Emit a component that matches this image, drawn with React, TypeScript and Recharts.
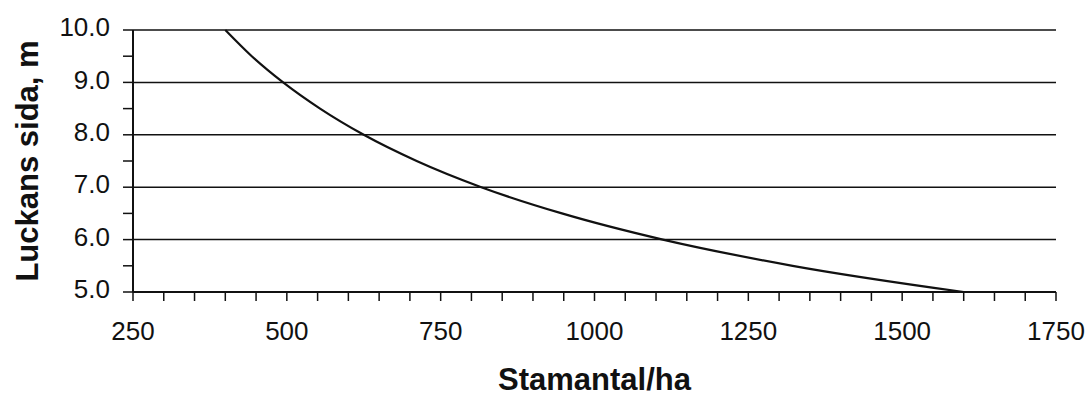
import React from 'react';
import { LineChart, Line, XAxis, YAxis, CartesianGrid, Label } from 'recharts';

// Stems per hectare vs. gap side length
const stemsPerHa = [400, 443, 494, 554, 625, 711, 816, 947, 1111, 1322, 1600];
const gapSide = [10, 9.5, 9, 8.5, 8, 7.5, 7, 6.5, 6, 5.5, 5];

const xTicks = [
  250, 300, 350, 400, 450, 500, 550, 600, 650, 700, 750, 800, 850, 900, 950, 1000,
  1050, 1100, 1150, 1200, 1250, 1300, 1350, 1400, 1450, 1500, 1550, 1600, 1650, 1700, 1750,
];
const xLabelled = [250, 500, 750, 1000, 1250, 1500, 1750];
const yTicks = [5, 5.5, 6, 6.5, 7, 7.5, 8, 8.5, 9, 9.5, 10];
const yLabelled = [5, 6, 7, 8, 9, 10];

const xTitle = 'Stamantal/ha';
const yTitle = 'Luckans sida, m';

const FONT = '"Liberation Sans", Arial, sans-serif';
const INK = '#111';

const data = stemsPerHa.map((s, i) => ({ stems: s, side: gapSide[i] }));

const XTick = ({ x, y, payload }: any) => {
  if (!xLabelled.includes(payload.value)) return null;
  return (
    <text x={x} y={y} dy="0.71em" textAnchor="middle" fontSize={26} fill={INK} fontFamily={FONT}>
      {payload.value}
    </text>
  );
};

const YTick = ({ x, y, payload }: any) => {
  if (!yLabelled.includes(payload.value)) return null;
  return (
    <text x={x} y={y - 3} dy="0.355em" textAnchor="end" fontSize={26} fill={INK} fontFamily={FONT}>
      {payload.value.toFixed(1)}
    </text>
  );
};

const YTitle = ({ viewBox }: any) => {
  const cx = viewBox.x + 27;
  const cy = viewBox.y + viewBox.height / 2;
  return (
    <text
      x={cx}
      y={cy}
      transform={`rotate(-90, ${cx}, ${cy})`}
      textAnchor="middle"
      dominantBaseline="central"
      fontSize={31}
      fontWeight="bold"
      fill={INK}
      fontFamily={FONT}
    >
      {yTitle}
    </text>
  );
};

const XTitle = ({ viewBox }: any) => {
  const cx = viewBox.x + viewBox.width / 2;
  return (
    <text x={cx} y={viewBox.y + viewBox.height - 6} textAnchor="middle" fontSize={31} fontWeight="bold" fill={INK} fontFamily={FONT}>
      {xTitle}
    </text>
  );
};

export default function App() {
  return (
    <div style={{ position: 'absolute', left: 0, top: 0, width: 1090, height: 396, background: '#fff' }}>
      <LineChart width={1090} height={396} data={data} margin={{ top: 30, right: 34, bottom: 0, left: 0 }}>
        <CartesianGrid horizontal vertical={false} stroke={INK} strokeWidth={1.5} horizontalValues={yLabelled} />
        <XAxis
          type="number"
          dataKey="stems"
          domain={[250, 1750]}
          ticks={xTicks}
          interval={0}
          height={104}
          tickSize={9}
          tickMargin={21}
          tick={<XTick />}
          axisLine={{ stroke: INK, strokeWidth: 2 }}
          tickLine={{ stroke: INK, strokeWidth: 1.5 }}
        >
          <Label content={<XTitle />} />
        </XAxis>
        <YAxis
          type="number"
          dataKey="side"
          domain={[5, 10]}
          ticks={yTicks}
          interval={0}
          width={133}
          tickSize={10}
          tickMargin={13}
          tick={<YTick />}
          axisLine={{ stroke: INK, strokeWidth: 2 }}
          tickLine={{ stroke: INK, strokeWidth: 1.5 }}
        >
          <Label content={<YTitle />} />
        </YAxis>
        <Line
          type="monotone"
          dataKey="side"
          stroke={INK}
          strokeWidth={2.2}
          dot={false}
          isAnimationActive={false}
        />
      </LineChart>
    </div>
  );
}
